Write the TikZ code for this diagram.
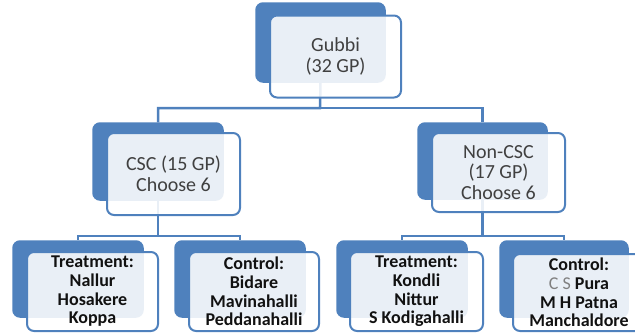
\documentclass[tikz,border=0pt]{standalone}
\usepackage{fontspec}
\setmainfont{Carlito}
\usetikzlibrary{positioning,calc}
\definecolor{obl}{HTML}{4F81BD}
\definecolor{txt}{HTML}{404040}
\definecolor{btxt}{HTML}{111111}
\begin{document}
\begin{tikzpicture}[x=1pt,y=-1pt,
  backbox/.style={draw=obl,fill=obl,rounded corners=7pt,line width=1.5pt,inner sep=0pt},
  frontbox/.style={draw=obl,fill=white,fill opacity=0.88,text opacity=1,rounded corners=7pt,line width=2pt,inner sep=0pt,align=center},
  midtext/.style={frontbox,font=\fontsize{20}{20.5}\selectfont,text=txt},
  bottext/.style={frontbox,font=\fontsize{18}{18.7}\selectfont\bfseries,text=btxt},
  conn/.style={draw=obl,line width=2.5pt}]
\useasboundingbox (0,0) rectangle (635,333);
\clip (0,0) rectangle (635,333);
% back boxes
\node[backbox,minimum width=129pt,minimum height=79pt] (tb) at (320.5,42.5) {};
\node[backbox,minimum width=130pt,minimum height=77pt] (lb) at (158,161.5) {};
\node[backbox,minimum width=129pt,minimum height=76pt] (rb) at (482.5,161) {};
\node[backbox,minimum width=130pt,minimum height=76pt] (b1b) at (78,279) {};
\node[backbox,minimum width=130pt,minimum height=76pt] (b2b) at (240,279) {};
\node[backbox,minimum width=130pt,minimum height=76pt] (b3b) at (402,279) {};
\node[backbox,minimum width=128pt,minimum height=76pt] (b4b) at (564,279) {};
% connectors
\coordinate (j1) at (320,108);
\coordinate (j2) at (158,236);
\coordinate (j3) at (482.5,236);
\draw[conn] (tb.south) -- (j1) -| (lb.north);
\draw[conn] (j1) -| (rb.north);
\draw[conn] (lb.south) -- (j2) -| (b1b.north);
\draw[conn] (j2) -| (b2b.north);
\draw[conn] (rb.south) -- (j3) -| (b3b.north);
\draw[conn] (j3) -| (b4b.north);
% front boxes
\node[midtext,minimum width=131pt,minimum height=82pt] (tf) at (335.5,56.5) {Gubbi\\(32 GP)};
\node[midtext,minimum width=133pt,minimum height=82pt] (lf) at (173.5,174) {CSC (15 GP)\\Choose 6};
\node[midtext,minimum width=133pt,minimum height=79pt] (rf) at (498.5,172.5) {Non-CSC\\(17 GP)\\Choose 6};
\node[bottext,minimum width=131pt,minimum height=79pt] (b1f) at (92.5,291.5) {Treatment:\\Nallur\\Hosakere\\Koppa};
\node[bottext,minimum width=130pt,minimum height=79pt] (b2f) at (254,291.5) {Control:\\Bidare\\Mavinahalli\\Peddanahalli};
\node[bottext,minimum width=133pt,minimum height=79pt] (b3f) at (416.5,291.5) {Treatment:\\Kondli\\Nittur\\S Kodigahalli};
\node[bottext,minimum width=132pt,minimum height=77pt] (b4f) at (579,292.5) {Control:\\{\mdseries\color{gray}C S} Pura\\M H Patna\\Manchaldore};
\end{tikzpicture}
\end{document}
